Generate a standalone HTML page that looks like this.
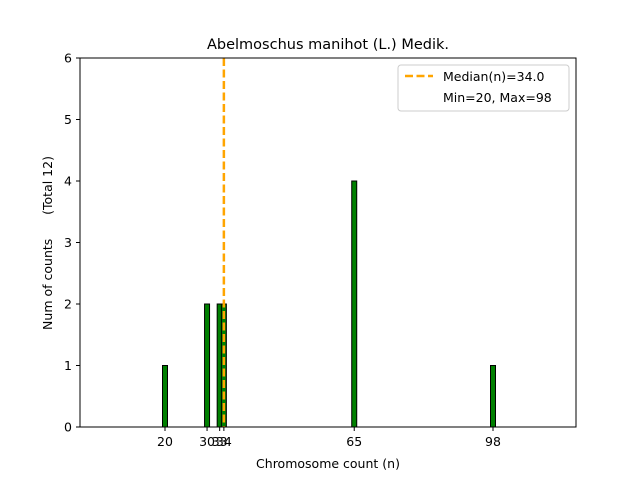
<!DOCTYPE html>
<html><head><meta charset="utf-8"><style>
body{margin:0;background:#fff;font-family:"Liberation Sans","DejaVu Sans",sans-serif}
svg text{font-family:"DejaVu Sans","Liberation Sans",sans-serif}
</style></head><body>
<svg id="chart" width="640" height="480" xmlns="http://www.w3.org/2000/svg">
<rect x="0" y="0" width="640" height="480" fill="#fff"/>
<text x="328" y="49" font-size="14.5" text-anchor="middle">Abelmoschus manihot (L.) Medik.</text>
<g id="bars"></g>
<g id="yticks"></g>
<g id="xticks"></g>
<line id="median" stroke="orange" stroke-width="2.5" stroke-dasharray="8,3.5" y1="58" y2="427"/>
<rect x="80" y="58" width="496" height="369" fill="none" stroke="#000" stroke-width="1"/>
<text x="328" y="468" font-size="12.5" text-anchor="middle">Chromosome count (n)</text>
<text transform="translate(52,243) rotate(-90)" font-size="12.5" text-anchor="middle" style="white-space:pre" xml:space="preserve">Num of counts      (Total 12)</text>
<g>
<rect x="398" y="65" width="171" height="46" rx="3" fill="#fff" stroke="#ccc"/>
<line x1="405" y1="76" x2="433" y2="76" stroke="orange" stroke-width="2.5" stroke-dasharray="8,3.5"/>
<text x="443" y="81" font-size="12.5">Median(n)=34.0</text>
<text x="443" y="102" font-size="12.5">Min=20, Max=98</text>
</g>
</svg>
<script>
const categories=[20,30,33,34,65,98];
const counts=[1,2,2,2,4,1];
const yTicks=[0,1,2,3,4,5,6];
const xTickLabels=["20","30","33","34","65","98"];
const medianValue=34.0;
const NS="http://www.w3.org/2000/svg";
function xs(v){return 165+(v-20)*(493-165)/78;}
function ys(v){return 427-v*(369/6);}
const bars=document.getElementById('bars');
categories.forEach((c,i)=>{
 const r=document.createElementNS(NS,'rect');
 r.setAttribute('x',xs(c)-2.5);r.setAttribute('width',5);
 r.setAttribute('y',ys(counts[i]));r.setAttribute('height',ys(0)-ys(counts[i]));
 r.setAttribute('fill','green');r.setAttribute('stroke','#000');r.setAttribute('stroke-width','1');
 
 
 bars.appendChild(r);
});
const yt=document.getElementById('yticks');
yTicks.forEach(t=>{
 const l=document.createElementNS(NS,'line');
 l.setAttribute('x1',76);l.setAttribute('x2',80);l.setAttribute('y1',ys(t));l.setAttribute('y2',ys(t));l.setAttribute('stroke','#000');
 
 
 yt.appendChild(l);
 const tx=document.createElementNS(NS,'text');
 tx.setAttribute('x',72);tx.setAttribute('y',ys(t)+4.5);tx.setAttribute('font-size','12.5');tx.setAttribute('text-anchor','end');
 tx.textContent=t;
 
 
 yt.appendChild(tx);
});
const xt=document.getElementById('xticks');
categories.forEach((c,i)=>{
 const l=document.createElementNS(NS,'line');
 l.setAttribute('x1',xs(c));l.setAttribute('x2',xs(c));l.setAttribute('y1',427);l.setAttribute('y2',431);l.setAttribute('stroke','#000');
 
 
 xt.appendChild(l);
 const tx=document.createElementNS(NS,'text');
 tx.setAttribute('x',xs(c));tx.setAttribute('y',446);tx.setAttribute('font-size','12.5');tx.setAttribute('text-anchor','middle');
 tx.textContent=xTickLabels[i];
 
 
 xt.appendChild(tx);
});
const m=document.getElementById('median');
m.setAttribute('x1',xs(medianValue));m.setAttribute('x2',xs(medianValue));
</script>
</body></html>
